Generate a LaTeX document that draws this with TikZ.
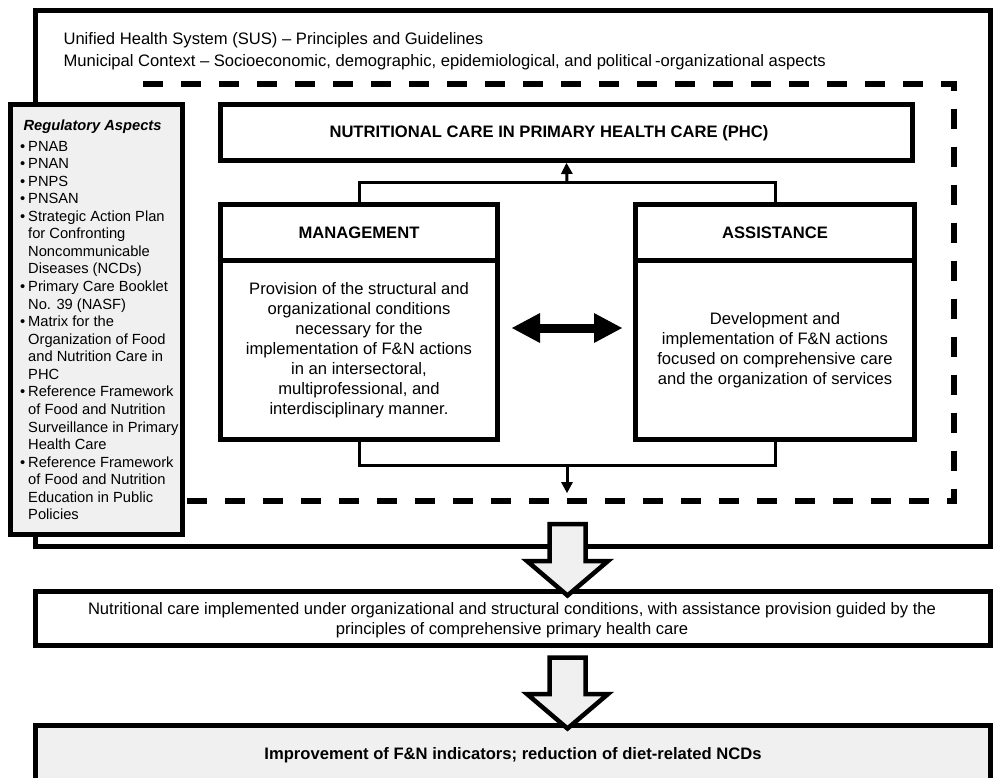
\documentclass[tikz,border=0pt]{standalone}
\usepackage{fontspec}
\setmainfont{Liberation Sans}
\usetikzlibrary{arrows.meta,calc}
\definecolor{lg}{HTML}{F0F0F0}
\newcommand\rbul[1]{\makebox[8pt][l]{•}#1}
\newcommand\rind[1]{\hspace*{8pt}#1}
\newcommand\fbig{\fontsize{16.6pt}{20.1pt}\selectfont}
\newcommand\fsmall{\fontsize{14.7pt}{20pt}\selectfont}
\begin{document}
\begin{tikzpicture}[x=1pt,y=-1pt,
  box/.style={draw=black, line width=5pt, fill=white, inner sep=0pt},
  conn/.style={draw=black, line width=3pt},
  smalltip/.style={-{Triangle[length=11pt,width=12pt,line width=0pt]}},
  blockarrow/.style={draw=black, fill=lg, line width=4.5pt, line join=miter}]
\clip (0,0) rectangle (993,777);
% outer frame
\node[box, minimum width=954.5pt, minimum height=536pt] (outer) at (512.75,278) {};
\node[anchor=base west, font=\fbig] (sus) at (60,44.5) {Unified Health System (SUS) – Principles and Guidelines};
\node[anchor=base west, font=\fbig] (ctx) at (60,66.5) {Municipal Context – Socioeconomic, demographic, epidemiological, and political\hspace{3pt}-organizational aspects};
% dashed frame
\draw[line width=6pt, dash pattern=on 20pt off 18pt] (143,83.5) -- (954,83.5) -- (954,501) -- (143,501);
% regulatory box
\node[box, fill=lg, minimum width=172pt, minimum height=430pt] (reg) at (96.5,319.5) {};
\node[anchor=base west, font=\fsmall\bfseries\itshape] (regt) at (20,130.7) {Regulatory Aspects};
\foreach \t [count=\i from 0] in {{\rbul{PNAB}},{\rbul{PNAN}},{\rbul{PNPS}},{\rbul{PNSAN}},
  {\rbul{Strategic Action Plan}},{\rind{for Confronting}},{\rind{Noncommunicable}},{\rind{Diseases (NCDs)}},
  {\rbul{Primary Care Booklet}},{\rind{No. 39 (NASF)}},
  {\rbul{Matrix for the}},{\rind{Organization of Food}},{\rind{and Nutrition Care in}},{\rind{PHC}},
  {\rbul{Reference Framework}},{\rind{of Food and Nutrition}},{\rind{Surveillance in Primary}},{\rind{Health Care}},
  {\rbul{Reference Framework}},{\rind{of Food and Nutrition}},{\rind{Education in Public}},{\rind{Policies}}}
  \node[anchor=base west, font=\fsmall, inner sep=0pt] (reg\i) at (20,{151+17.57*\i}) {\t};
% nutritional care box
\node[box, minimum width=692pt, minimum height=56pt] (nut) at (566.5,132.5) {};
\node[font=\fbig\bfseries] (nutt) at (549,133) {NUTRITIONAL CARE IN PRIMARY HEALTH CARE (PHC)};
% management
\node[box, minimum width=277pt, minimum height=56pt, font=\fbig\bfseries] (mt) at (359,232.5) {MANAGEMENT};
\node[box, minimum width=277pt, minimum height=179pt, font=\fbig, align=center] (mb) at (359,350) {Provision of the structural and\\organizational conditions\\necessary for the\\implementation of F\&N actions\\in an intersectoral,\\multiprofessional, and\\interdisciplinary manner.};
% assistance
\node[box, minimum width=279pt, minimum height=56pt, font=\fbig\bfseries] (at) at (775,232.5) {ASSISTANCE};
\node[box, minimum width=279pt, minimum height=179pt, font=\fbig, align=center] (ab) at (775,350) {Development and\\implementation of F\&N actions\\focused on comprehensive care\\and the organization of services};
% connectors
\coordinate (jt) at (567,182);
\coordinate (jb) at (567,465);
\coordinate (dtip) at (567,493);
\draw[conn] (mt.north) |- (jt) -| (at.north);
\draw[conn, smalltip] (jt) -- (nut.south);
\draw[conn] (mb.south) |- (jb) -| (ab.south);
\draw[conn, smalltip] (jb) -- (dtip);
\coordinate (dl) at (512,328);
\coordinate (dr) at (622,328);
\draw[line width=9pt, {Triangle[length=28pt,width=30pt,line width=0pt]}-{Triangle[length=28pt,width=30pt,line width=0pt]}] (dl) -- (dr);
% middle box
\node[box, minimum width=955pt, minimum height=54pt] (mid) at (513,618.5) {};
\node[font=\fbig, align=center] (midt) at (512,620) {Nutritional care implemented under organizational and structural conditions, with assistance provision guided by the\\principles of comprehensive primary health care};
% bottom box
\node[box, fill=lg, minimum width=955pt, minimum height=60pt, font=\fbig\bfseries] (res) at (513,755) {Improvement of F\&N indicators; reduction of diet-related NCDs};
% block arrows
\draw[blockarrow] (549.5,524) -- (585.5,524) -- (585.5,561) -- (608,561) -- (567.5,595.5) -- (527,561) -- (549.5,561) -- cycle;
\draw[blockarrow] (549.5,657.5) -- (585.5,657.5) -- (585.5,694) -- (608,694) -- (567.5,728.5) -- (527,694) -- (549.5,694) -- cycle;
\end{tikzpicture}
\end{document}
